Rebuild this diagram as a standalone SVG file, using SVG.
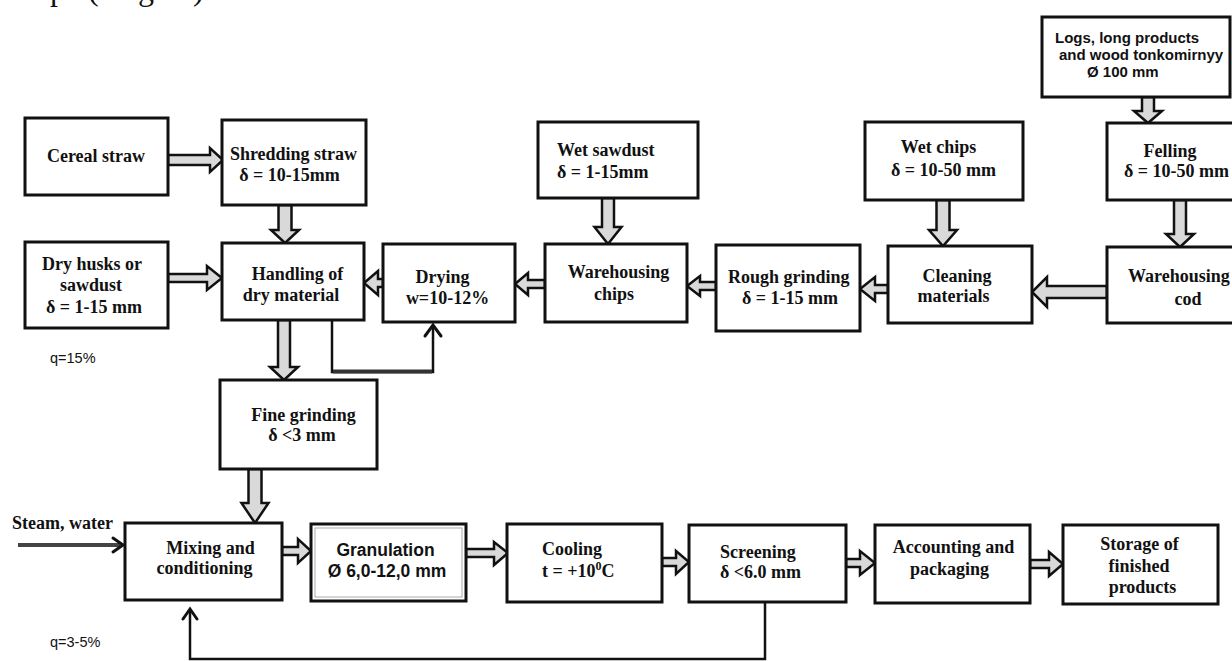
<svg xmlns="http://www.w3.org/2000/svg" width="1232" height="661" viewBox="0 0 1232 661">
<defs>
<style>
.box{fill:#fff;stroke:#111;stroke-width:3}
.t{font-family:"Liberation Serif","Times New Roman",serif;font-weight:bold;font-size:18px;fill:#111}
.s{font-family:"Liberation Sans",Arial,sans-serif;font-weight:bold;fill:#111}
.q{font-family:"Liberation Sans",Arial,sans-serif;font-size:14.5px;fill:#111}
.m{text-anchor:middle}
.ar{fill:#d9d9d9;stroke:#111;stroke-width:2.5;stroke-linejoin:miter}
.ln{fill:none;stroke:#111;stroke-width:2.5}
.hd{fill:none;stroke:#111;stroke-width:3;stroke-linecap:round;stroke-linejoin:miter}
</style>
</defs>
<rect width="1232" height="661" fill="#fff"/>
<text font-family="Liberation Serif,serif" font-size="32" fill="#111" y="0"><tspan x="50">p</tspan><tspan x="88">(</tspan><tspan x="112">Fi</tspan><tspan x="138">g.</tspan><tspan x="193">)</tspan></text>

<g id="connectors">
<polygon class="ar" points="168,155 210,155 210,148 223,160 210,172 210,165 168,165"/>
<polygon class="ar" points="278.5,205 291.5,205 291.5,230 299,230 285,243 271,230 278.5,230"/>
<polygon class="ar" points="168,274 207,274 207,266 222,278 207,290 207,282 168,282"/>
<polygon class="ar" points="383,279 378,279 378,271 364,283 378,295 378,287 383,287"/>
<polygon class="ar" points="545,280 528,280 528,273 515,284 528,295 528,288 545,288"/>
<polygon class="ar" points="716,282 700,282 700,276 687,286 700,296 700,290 716,290"/>
<polygon class="ar" points="888,285 875,285 875,277 860,289 875,301 875,293 888,293"/>
<polygon class="ar" points="1107,286 1047,286 1047,277 1032,292 1047,307 1047,298 1107,298"/>
<polygon class="ar" points="602,198 614,198 614,227 621.5,227 608,244 594.5,227 602,227"/>
<polygon class="ar" points="936.5,200 949.5,200 949.5,230 957,230 943,246 929,230 936.5,230"/>
<polygon class="ar" points="1142,97 1154,97 1154,111 1162,111 1148,123 1134,111 1142,111"/>
<polygon class="ar" points="1174,200 1186,200 1186,234 1194,234 1180,247 1166,234 1174,234"/>
<polygon class="ar" points="278,320 290,320 290,367 298,367 284,380 270,367 278,367"/>
<polyline class="ln" points="332,320 332,372 433,372 433,326"/>
<line x1="333" y1="371.5" x2="432" y2="371.5" stroke="#333" stroke-width="4"/>
<polyline class="hd" points="425,336 433,325 441,336"/>
<polygon class="ar" points="248.5,469 261.5,469 261.5,503 268.5,503 255,523 241.5,503 248.5,503"/>
<polygon class="ar" points="282,547 298,547 298,539 311,551 298,563 298,555 282,555"/>
<polygon class="ar" points="466,549 494,549 494,542 508,553 494,565 494,557 466,557"/>
<polygon class="ar" points="662,558 676,558 676,551 689,562 676,574 676,566 662,566"/>
<polygon class="ar" points="846,559 860,559 860,551 875,563 860,575 860,567 846,567"/>
<polygon class="ar" points="1030,560 1049,560 1049,552 1063,564 1049,576 1049,568 1030,568"/>
<line x1="18" y1="545" x2="120" y2="545" stroke="#444" stroke-width="4"/>
<polyline class="hd" points="113,538 123,545 113,552"/>
<polyline class="ln" points="765,603 765,659 190,659 190,610"/>
<polyline class="hd" points="183,619 190,609 197,619"/>
</g>

<g id="cereal-straw"><rect class="box" x="25" y="118" width="143" height="77"/><text class="t m" x="96" y="162">Cereal straw</text></g>
<g id="shredding-straw"><rect class="box" x="222" y="120" width="144" height="85"/><text class="t m" x="293.5" y="160">Shredding straw</text><text class="t m" x="289.5" y="181">δ = 10-15mm</text></g>
<g id="dry-husks"><rect class="box" x="25" y="242" width="143" height="86"/><text class="t m" x="92" y="270">Dry husks or</text><text class="t m" x="91" y="291">sawdust</text><text class="t m" x="94" y="313">δ = 1-15 mm</text></g>
<g id="handling"><rect class="box" x="222" y="243" width="142" height="77"/><text class="t m" x="297.5" y="280">Handling of</text><text class="t m" x="291" y="301">dry material</text></g>
<g id="drying"><rect class="box" x="383" y="244" width="132" height="78"/><text class="t m" x="442.5" y="283">Drying</text><text class="t m" x="447.5" y="304">w=10-12%</text></g>
<g id="warehousing-chips"><rect class="box" x="545" y="244" width="142" height="78"/><text class="t m" x="618.5" y="278">Warehousing</text><text class="t m" x="614" y="300">chips</text></g>
<g id="wet-sawdust"><rect class="box" x="538" y="122" width="160" height="76"/><text class="t" x="557" y="156">Wet sawdust</text><text class="t" x="557" y="178">δ = 1-15mm</text></g>
<g id="rough-grinding"><rect class="box" x="716" y="245" width="144" height="86"/><text class="t" x="728" y="283">Rough grinding</text><text class="t" x="742" y="304">δ = 1-15 mm</text></g>
<g id="wet-chips"><rect class="box" x="865" y="122" width="158" height="78"/><text class="t m" x="938.5" y="153">Wet chips</text><text class="t m" x="943.5" y="176">δ = 10-50 mm</text></g>
<g id="cleaning"><rect class="box" x="888" y="246" width="144" height="77"/><text class="t m" x="957" y="282">Cleaning</text><text class="t m" x="953.5" y="302">materials</text></g>
<g id="logs"><rect class="box" x="1042" y="17" width="188" height="80"/><text class="s" font-size="15" x="1055" y="43">Logs, long products</text><text class="s" font-size="15" x="1059" y="60">and wood tonkomirnyy</text><text class="s" font-size="15" x="1087" y="77">Ø 100 mm</text></g>
<g id="felling"><rect class="box" x="1107" y="123" width="130" height="77"/><text class="t m" x="1170" y="157">Felling</text><text class="t" x="1124" y="177">δ = 10-50 mm</text></g>
<g id="warehousing-cod"><rect class="box" x="1107" y="247" width="130" height="76"/><text class="t" x="1128" y="282">Warehousing</text><text class="t m" x="1188" y="305">cod</text></g>
<g id="fine-grinding"><rect class="box" x="220" y="380" width="157" height="89"/><text class="t m" x="303.5" y="421">Fine grinding</text><text class="t m" x="302" y="441">δ &lt;3 mm</text></g>
<g id="mixing"><rect class="box" x="125" y="523" width="157" height="77"/><text class="t m" x="210.5" y="554">Mixing and</text><text class="t m" x="204.5" y="574">conditioning</text></g>
<g id="granulation"><rect class="box" x="311" y="524" width="155" height="77"/><rect x="315" y="528" width="147" height="69" fill="none" stroke="#aaa" stroke-width="1"/><text class="s m" font-size="17.5" x="385.5" y="556">Granulation</text><text class="s m" font-size="17.5" x="387" y="577">Ø 6,0-12,0 mm</text></g>
<g id="cooling"><rect class="box" x="507" y="524" width="155" height="78"/><text class="t" x="542" y="555">Cooling</text><text class="t" x="542" y="577">t = +10<tspan font-size="12" dy="-7">0</tspan><tspan dy="7">C</tspan></text></g>
<g id="screening"><rect class="box" x="689" y="525" width="157" height="77"/><text class="t" x="720" y="558">Screening</text><text class="t" x="720" y="578">δ &lt;6.0 mm</text></g>
<g id="accounting"><rect class="box" x="875" y="525" width="155" height="78"/><text class="t m" x="953.5" y="553">Accounting and</text><text class="t m" x="949.5" y="575">packaging</text></g>
<g id="storage"><rect class="box" x="1063" y="525" width="155" height="79"/><text class="t m" x="1139.5" y="550">Storage of</text><text class="t m" x="1139" y="572">finished</text><text class="t m" x="1142.5" y="593">products</text></g>

<g id="labels">
<text class="t" x="12" y="529">Steam, water</text>
<text class="q" x="50" y="363">q=15%</text>
<text class="q" x="50" y="647">q=3-5%</text>
</g>
</svg>
